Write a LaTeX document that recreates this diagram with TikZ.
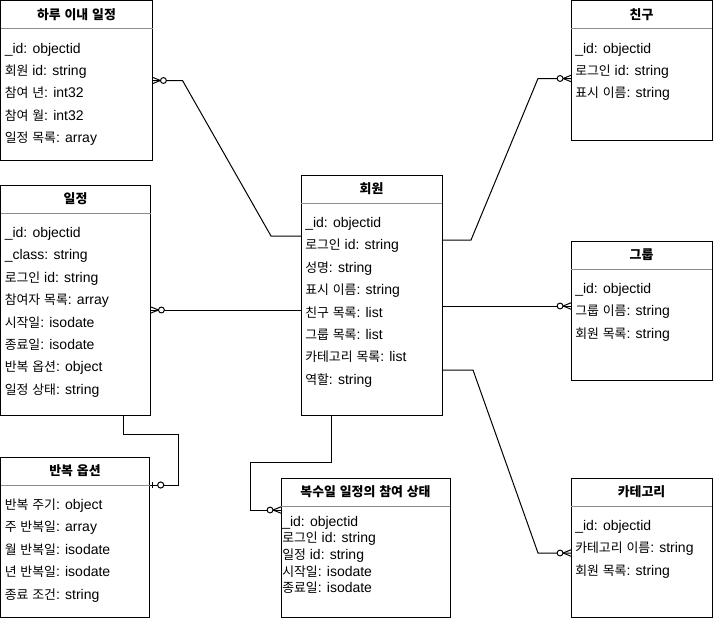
\documentclass[tikz,border=0pt]{standalone}
\usepackage{fontspec}
\setmainfont{Liberation Sans}
\newfontfamily\kr[Scale=0.92]{Noto Sans CJK KR}
\usetikzlibrary{calc}
% Hangul syllables are set in the Korean font
\XeTeXinterchartokenstate=1
\chardef\HangulClass=7
\newcount\hcode
\hcode="AC00
\loop
  \XeTeXcharclass\hcode=\HangulClass
\ifnum\hcode<"D7A3
  \advance\hcode by 1
\repeat
\XeTeXinterchartoks 0 \HangulClass = {\kr}
\XeTeXinterchartoks 4095 \HangulClass = {\kr}
\XeTeXinterchartoks \HangulClass 0 = {\rmfamily}
\XeTeXinterchartoks \HangulClass 4095 = {\rmfamily}
% crow's foot tips
\pgfdeclarearrow{
  name = ZeroMany,
  setup code = {
    \pgfarrowssettipend{0pt}
    \pgfarrowssetlineend{0pt}
    \pgfarrowssetbackend{-10.5pt}
    \pgfarrowssetvisualbackend{-10.5pt}
  },
  drawing code = {
    \pgfsetdash{}{0pt}
    \pgfpathmoveto{\pgfqpoint{0pt}{2.4pt}}
    \pgfpathlineto{\pgfqpoint{-6pt}{0pt}}
    \pgfpathlineto{\pgfqpoint{0pt}{-2.4pt}}
    \pgfusepathqstroke
    \pgfpathcircle{\pgfqpoint{-8.2pt}{0pt}}{2.2pt}
    \pgfsetfillcolor{white}
    \pgfusepathqfillstroke
  },
}
\pgfdeclarearrow{
  name = ZeroOne,
  setup code = {
    \pgfarrowssettipend{0pt}
    \pgfarrowssetlineend{0pt}
    \pgfarrowssetbackend{-10.5pt}
    \pgfarrowssetvisualbackend{-10.5pt}
  },
  drawing code = {
    \pgfsetdash{}{0pt}
    \pgfpathmoveto{\pgfqpoint{-2.3pt}{2.3pt}}
    \pgfpathlineto{\pgfqpoint{-2.3pt}{-2.3pt}}
    \pgfusepathqstroke
    \pgfpathcircle{\pgfqpoint{-8.4pt}{0pt}}{2.3pt}
    \pgfsetfillcolor{white}
    \pgfusepathqfillstroke
  },
}
\newcommand{\pxu}{0.75pt}
\newcommand{\rowgap}{22.4}
\newcommand{\rowstart}{52.5}
\newcommand{\rowindent}{4}
% entity table: name, left, top, width, height, title, fields
\newcommand{\entity}[7]{%
  \node[entbox, minimum width=#4*\pxu, minimum height=#5*\pxu] (#1) at (#2,#3) {};
  \node[enttitle] (#1-title) at ($(#1.north)+(0,14)$) {#6};
  \draw[entsep] ($(#1.north west)+(0,28)$) -- ($(#1.north east)+(0,28)$);
  \foreach \f [count=\i] in {#7}
    \node[entfield] (#1-\i) at
      ($(#1.north west)+(\rowindent,\rowstart+\rowgap*\i-\rowgap)$) {\f};
}

\begin{document}
\begin{tikzpicture}[x=0.75pt, y=-0.75pt,
  entbox/.style={draw, line width=0.75pt, anchor=north west,
                 inner sep=0pt, outer sep=0pt},
  enttitle/.style={font=\fontsize{10.5}{12}\selectfont\bfseries, inner sep=0pt},
  entsep/.style={draw=black!45, line width=0.75pt},
  entfield/.style={font=\fontsize{10.5}{12}\selectfont, anchor=base west,
                   inner sep=0pt},
  rel/.style={draw, line width=0.75pt}]
\useasboundingbox (0,0) rectangle (713,618);

\entity{daily}{0.5}{0.5}{152}{160}{하루 이내 일정}
  {\_id: objectid, 회원 id: string, 참여 년: int32, 참여 월: int32,
   일정 목록: array}
\entity{sched}{0.5}{185}{150}{230}{일정}
  {\_id: objectid, \_class: string, 로그인 id: string, 참여자 목록: array,
   시작일: isodate, 종료일: isodate, 반복 옵션: object, 일정 상태: string}
\entity{repeat}{0.5}{457}{149}{160}{반복 옵션}
  {반복 주기: object, 주 반복일: array, 월 반복일: isodate,
   년 반복일: isodate, 종료 조건: string}
\entity{member}{301}{175}{141}{240}{회원}
  {\_id: objectid, 로그인 id: string, 성명: string, 표시 이름: string,
   친구 목록: list, 그룹 목록: list, 카테고리 목록: list, 역할: string}
\entity{friend}{571}{0.5}{141}{140}{친구}
  {\_id: objectid, 로그인 id: string, 표시 이름: string}
\entity{group}{571}{241}{141}{139}{그룹}
  {\_id: objectid, 그룹 이름: string, 회원 목록: string}
\entity{category}{571}{478}{141}{139}{카테고리}
  {\_id: objectid, 카테고리 이름: string, 회원 목록: string}
% tighter rows
\renewcommand{\rowgap}{16.7}
\renewcommand{\rowstart}{48}
\renewcommand{\rowindent}{1}
\entity{attend}{281}{478}{169}{139}{복수일 일정의 참여 상태}
  {\_id: objectid, 로그인 id: string, 일정 id: string, 시작일: isodate,
   종료일: isodate}

% relations
\draw[rel, -ZeroMany] ($(member.north west)+(0,61)$) -- ++(-30,0)
  -- ($(daily.north east)+(30,80)$) -- ($(daily.north east)+(0,80)$);
\draw[rel, -ZeroMany] ($(member.north west)+(0,135)$) coordinate (m-s)
  -- (m-s -| sched.east);
\draw[rel, -ZeroMany] ($(member.north east)+(0,65)$) -- ++(29,0)
  -- ($(friend.north west)+(-33,78)$) -- ($(friend.north west)+(0,78)$);
\draw[rel, -ZeroMany] ($(member.north east)+(0,131)$) coordinate (m-g)
  -- (m-g -| group.west);
\draw[rel, -ZeroMany] ($(member.north east)+(0,195)$) -- ++(31,0)
  -- ($(category.north west)+(-33,75)$) -- ($(category.north west)+(0,75)$);
\draw[rel, -ZeroMany] ($(member.south west)+(30,0)$) -- ++(0,47) -- ++(-81,0)
  |- ($(attend.north west)+(0,32)$);
\draw[rel, -ZeroOne] ($(sched.south west)+(123,0)$) -- ++(0,19)
  -| ($(repeat.north east)+(29,28)$) -- ($(repeat.north east)+(0,28)$);
\end{tikzpicture}
\end{document}
